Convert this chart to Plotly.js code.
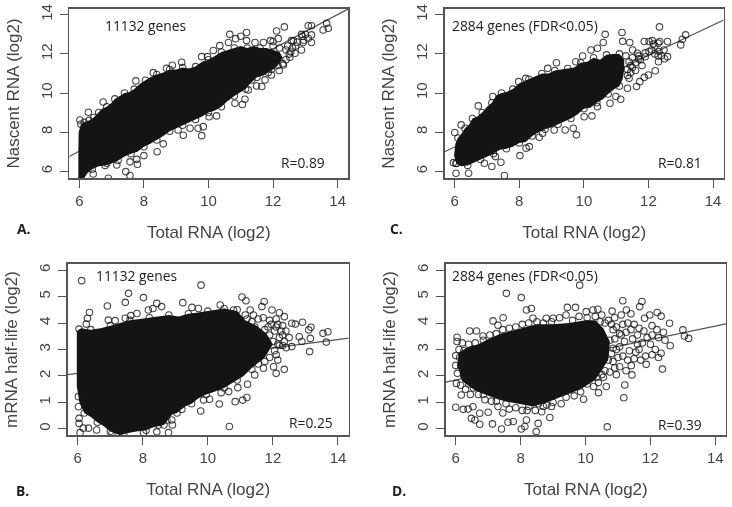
<!DOCTYPE html>
<html><head><meta charset="utf-8">
<script src="https://cdn.plot.ly/plotly-3.0.1.min.js"></script>
<style>html,body{margin:0;padding:0;background:#fff}#c{width:732px;height:507px;filter:blur(0.45px)}</style>
</head><body><div id="c"></div>
<script>
const xTicks=[6,8,10,12,14];
const nascentTicks=[6,8,10,12,14];
const halfLifeTicks=[0,1,2,3,4,5,6];

const fitA=[[5.69,6.75],[14.33,14.3]];
const fitC=[[5.69,7.0],[14.33,13.73]];
const fitB=[[5.69,2.05],[14.33,3.43]];
const fitD=[[5.69,1.77],[14.33,3.97]];

const coreA=[[5.98,8.0],[6.05,8.4],[6.15,8.5],[6.3,8.6],[6.45,8.75],[6.6,9.0],[6.7,9.2],[6.85,9.3],[7.0,9.5],[7.1,9.7],[7.25,9.85],[7.4,10.0],[7.55,10.05],[7.7,10.2],[7.9,10.5],[8.05,10.65],[8.2,10.8],[8.4,10.95],[8.6,11.05],[8.8,11.2],[9.0,11.2],[9.2,11.3],[9.4,11.25],[9.6,11.35],[9.8,11.6],[10.0,11.7],[10.2,11.9],[10.4,12.1],[10.6,12.2],[10.8,12.3],[11.0,12.4],[11.2,12.3],[11.4,12.4],[11.6,12.3],[11.8,12.3],[12.0,12.2],[12.2,12.1],[12.3,11.8],[12.15,11.4],[12.0,11.2],[11.85,11.05],[11.7,10.9],[11.5,10.8],[11.3,10.5],[11.15,10.2],[11.0,10.05],[10.8,9.85],[10.6,9.6],[10.4,9.3],[10.2,9.1],[10.0,9.0],[9.8,8.8],[9.6,8.65],[9.4,8.5],[9.2,8.35],[9.0,8.2],[8.8,8.05],[8.6,7.8],[8.4,7.6],[8.2,7.4],[8.0,7.25],[7.8,7.0],[7.6,6.9],[7.4,6.75],[7.2,6.55],[7.0,6.4],[6.8,6.3],[6.6,6.25],[6.4,6.1],[6.25,5.9],[6.15,5.64],[5.97,5.64],[5.97,7.0]];
const coreC=[[6.02,7.4],[6.1,7.7],[6.2,7.9],[6.32,8.2],[6.45,8.4],[6.55,8.7],[6.7,8.8],[6.85,9.0],[7.0,9.3],[7.15,9.5],[7.3,9.9],[7.45,10.0],[7.6,10.05],[7.8,10.2],[8.0,10.5],[8.3,10.7],[8.5,10.85],[8.7,11.0],[8.9,11.0],[9.1,11.15],[9.3,11.2],[9.5,11.25],[9.7,11.3],[9.9,11.55],[10.1,11.6],[10.3,11.8],[10.5,11.7],[10.7,11.95],[10.9,12.0],[11.1,12.0],[11.25,11.7],[11.25,11.2],[11.2,10.7],[11.1,10.35],[10.95,10.2],[10.75,9.95],[10.6,9.7],[10.4,9.5],[10.2,9.25],[10.0,9.2],[9.8,8.9],[9.6,8.7],[9.4,8.55],[9.2,8.4],[9.0,8.25],[8.8,8.15],[8.6,8.0],[8.4,7.8],[8.2,7.5],[8.0,7.45],[7.8,7.25],[7.6,7.15],[7.4,7.1],[7.2,6.9],[7.0,6.75],[6.8,6.6],[6.6,6.45],[6.4,6.3],[6.2,6.25],[6.05,6.4],[5.98,6.8],[6.0,7.1]];
const coreB=[[5.97,3.7],[6.1,3.8],[6.4,3.75],[6.7,3.8],[7.0,3.9],[7.3,4.0],[7.6,4.1],[7.9,4.15],[8.2,4.2],[8.5,4.25],[8.8,4.3],[9.1,4.25],[9.4,4.35],[9.7,4.4],[10.0,4.45],[10.3,4.5],[10.5,4.55],[10.9,4.45],[11.15,4.1],[11.5,3.9],[11.8,3.6],[12.0,3.2],[11.75,2.7],[11.35,2.3],[11.1,2.0],[10.9,1.85],[10.7,1.7],[10.5,1.55],[10.2,1.4],[9.95,1.3],[9.7,1.15],[9.5,0.95],[9.3,0.85],[9.05,0.6],[8.9,0.55],[8.65,0.15],[8.3,0.05],[8.1,-0.05],[7.8,-0.1],[7.55,-0.15],[7.3,-0.24],[7.0,-0.1],[6.8,0.1],[6.6,0.25],[6.4,0.45],[6.2,0.6],[6.05,1.0],[5.97,1.6],[5.97,2.2],[5.97,2.8],[5.97,3.3]];
const coreD=[[6.1,2.9],[6.4,3.1],[6.7,3.2],[7,3.4],[7.4,3.6],[8,3.8],[8.5,3.95],[9,3.95],[9.5,4.0],[10,4.1],[10.3,4.1],[10.55,3.8],[10.75,3.3],[10.7,2.6],[10.3,1.85],[9.85,1.5],[9.3,1.25],[8.8,1.0],[8.4,0.85],[8,0.95],[7.5,1.05],[7,1.25],[6.6,1.45],[6.2,1.8],[6.05,2.4]];

const pointsA=[[12.35,13.38],[12.11,13.17],[11.18,13.09],[10.66,13.0],[11.0,12.9],[10.84,12.78],[11.18,12.68],[10.62,12.58],[11.44,12.58],[11.7,12.58],[11.92,12.68],[12.16,12.78],[10.35,12.42],[10.15,12.17],[9.79,11.86],[9.97,11.86],[9.17,11.57],[8.88,11.42],[8.7,11.26],[8.29,11.04],[7.75,10.62],[6.74,9.54],[6.28,9.02],[6.02,8.62],[13.09,13.44],[13.19,13.44],[12.88,13.0],[13.66,13.56],[13.55,13.22],[13.71,13.31],[13.19,12.97],[13.09,12.8],[13.19,12.58],[12.93,12.58],[12.88,12.2],[12.63,12.68],[12.57,12.68],[12.0,12.63],[12.68,12.03],[12.52,11.83],[12.32,11.43],[12.19,11.15],[11.95,11.21],[11.95,10.92],[11.75,10.67],[11.65,10.33],[11.49,10.36],[11.34,10.67],[11.23,10.16],[11.13,9.68],[11.05,9.41],[10.82,9.48],[10.56,9.78],[10.25,8.83],[10.02,8.79],[9.84,8.28],[9.79,7.82],[9.68,8.2],[9.43,8.2],[9.22,7.84],[9.06,8.11],[8.6,7.4],[8.41,7.0],[8.0,6.8],[7.78,6.61],[7.8,6.36],[7.57,6.48],[7.44,5.98],[7.57,5.78],[7.16,6.32],[6.85,6.41],[6.43,5.86],[6.9,5.64],
[6.05,8.4],[6.15,8.5],[6.3,8.6],[6.45,8.75],[6.6,9.0],[6.85,9.3],[7.1,9.7],[7.4,10.0],[7.7,10.2],[8.05,10.65],[8.4,10.95],[8.8,11.2],[9.2,11.3],[9.6,11.35],[10.0,11.7],[10.4,12.1],[10.8,12.3],[11.2,12.3],[11.6,12.3],[12.0,12.4],[12.2,12.3],[12.4,12.2],[12.5,12.0],
[12.4,11.7],[12.3,11.5],[12.15,11.4],[11.85,11.05],[11.5,10.8],[11.15,10.2],[10.8,9.85],[10.4,9.3],[10.0,9.0],[9.6,8.65],[9.2,8.35],[8.8,8.05],[8.4,7.6],[8.0,7.25],[7.6,6.9],[7.2,6.55],[6.8,6.3],[6.4,6.1],
[12.45,12.4],[12.6,12.3],[12.75,12.6],[12.9,12.9],[13.0,13.0],[12.95,12.7],[12.7,12.4],[12.55,12.1]];

const pointsC=[[12.34,13.38],[11.18,13.09],[10.66,13.0],[11.2,12.64],[11.42,12.58],[10.6,12.58],[10.42,12.29],[10.22,12.2],[9.96,11.89],[9.75,11.6],[9.15,11.55],[8.88,11.26],[8.2,10.75],[7.98,10.58],[7.18,9.82],[6.73,9.34],[6.2,8.37],[6.0,7.98],[13.15,12.97],[13.05,12.75],[13.0,12.46],[12.59,12.63],[12.59,11.86],[12.35,12.63],[12.12,12.68],[12.02,12.63],[11.87,12.63],[11.51,12.2],[11.66,12.03],[12.33,12.12],[12.02,12.12],[12.48,12.2],[12.31,11.6],[12.21,11.14],[12.0,10.92],[11.87,10.8],[11.73,10.58],[11.63,10.33],[11.4,10.75],[11.35,10.24],[11.14,9.68],[10.99,9.82],[10.81,9.48],[10.42,9.3],[10.25,8.83],[10.01,8.79],[9.77,7.86],[9.67,8.2],[9.42,8.11],[9.08,8.11],[8.72,7.94],[8.62,7.74],[8.31,7.26],[8.21,7.18],[8.02,6.8],[7.26,6.75],[7.43,6.46],[7.15,6.24],[6.92,6.41],[7.54,5.78],[6.43,5.9],[6.04,5.9],[6.04,6.41],[5.96,6.44],
[6.1,7.7],[6.32,8.2],[6.55,8.7],[6.85,9.0],[7.15,9.5],[7.45,10.0],[7.8,10.2],[8.3,10.7],[8.7,11.0],[9.1,11.15],[9.5,11.25],[9.9,11.55],[10.3,11.8],[10.7,11.95],[11.1,12.0],[11.3,11.9],[11.5,11.8],[11.7,11.9],[11.9,12.05],[12.1,12.2],[12.2,12.0],[12.4,11.9],[12.5,11.75],[12.3,11.9],[12.2,12.4],[12.3,12.55],[12.15,12.5],
[11.45,11.4],[11.6,11.55],[11.75,11.7],[11.9,11.85],[11.8,11.4],[11.6,11.15],[11.45,11.05],[11.35,10.9],[11.4,11.6],[11.35,11.2],[11.5,11.3],[11.7,11.75],[11.1,10.35],[10.75,9.95],[10.4,9.5],[10.0,9.2],[9.6,8.7],[9.2,8.4],[8.8,8.15],[8.4,7.8],[8.0,7.45],[7.6,7.15],[7.2,6.9],[6.8,6.6],[6.4,6.3],[6.05,6.4]];

const pointsB=[[6.12,5.6],[9.79,5.43],[7.56,5.12],[7.46,4.78],[6.91,4.64],[8.02,4.96],[9.23,4.77],[8.43,4.74],[11.05,4.98],[11.17,4.84],[11.73,4.81],[11.66,4.62],[6.36,4.4],[6.3,4.18],[6.26,3.96],[6.04,3.77],[6.94,4.11],[7.15,4.09],[7.46,4.18],[7.63,4.28],[7.82,4.36],[8.17,4.49],[8.31,4.55],[8.58,4.62],[9.51,4.59],[9.71,4.55],[10.38,4.68],[10.79,4.49],[11.3,4.49],[11.97,4.49],[12.2,4.39],[12.35,4.24],[12.58,3.99],[12.69,3.96],[12.91,4.03],[13.1,3.74],[13.17,3.84],[13.54,3.61],[13.69,3.67],[13.64,3.28],[13.15,3.42],[12.81,3.48],[12.89,3.3],[13.13,2.92],[12.58,3.11],[12.41,3.07],[12.35,2.25],[12.1,2.1],[12.02,2.35],[11.71,2.29],[11.44,2.04],[11.22,1.69],[11.2,1.19],[11.07,1.09],[10.84,1.03],[10.92,1.56],[10.64,1.41],[10.41,1.37],[10.35,0.94],[10.66,0.09],[9.78,0.68],[10.05,1.12],[9.87,1.09],[9.2,0.74],[8.89,0.34],[8.79,-0.14],[8.43,-0.11],[8.02,-0.14],[6.07,-0.14],[6.04,0.21],[6.04,0.4],[6.02,0.84],[6.02,1.22],[6.17,0.03],[6.33,0.03],[6.58,-0.04],[7.05,-0.16],[7.41,-0.19],[8.48,0.15],[8.91,0.15],[8.74,0.34],
[6.4,3.75],[7.0,3.9],[7.6,4.1],[8.2,4.2],[8.8,4.3],[9.4,4.35],[10.0,4.45],[10.5,4.55],[10.9,4.5],[11.15,4.3],[11.4,4.3],[11.55,4.15],[11.7,4.2],[11.9,4.1],[12.1,4.15],[12.3,3.9],[12.4,3.7],[12.5,3.45],[12.35,3.3],[12.2,3.15],[12.1,2.8],[12.15,2.6],[11.9,2.7],[11.75,2.55],[11.55,2.45],[11.35,2.25],[10.9,1.85],[10.5,1.55],[9.95,1.3],[9.5,0.95],[9.05,0.6],[8.65,0.15],[8.1,-0.05],[7.0,-0.1],[6.6,0.25],[6.2,0.6],
[11.45,3.85],[11.6,3.6],[11.75,3.75],[11.9,3.55],[12.05,3.7],[12.2,3.45],[12.3,3.55],[12.0,3.3],[12.15,3.2],[12.3,3.15],[12.05,2.95],[11.85,3.85],[12.1,3.85],[11.35,4.05],[11.2,4.15],[12.15,3.95],[11.95,3.95],[12.25,3.7]];

const pointsD=[[9.82,5.43],[7.56,5.12],[8.02,4.96],[11.15,4.84],[11.74,4.81],[11.67,4.62],[8.18,4.49],[8.33,4.55],[9.44,4.59],[9.69,4.59],[10.02,4.43],[10.23,4.49],[10.38,4.52],[10.82,4.45],[11.26,4.49],[12.21,4.4],[12.33,4.26],[12.59,3.99],[11.82,4.18],[11.98,4.3],[13.0,3.74],[13.05,3.51],[13.18,3.42],[12.61,3.14],[12.33,2.86],[12.37,2.26],[11.87,2.44],[11.41,2.39],[11.43,2.04],[11.21,1.66],[11.18,1.18],[10.64,1.6],[10.4,1.37],[9.94,1.12],[10.67,0.08],[8.9,0.43],[8.48,-0.1],[8.54,0.21],[8.18,0.34],[8.13,0.09],[8.02,0],[7.77,0.28],[7.41,0],[7.61,0.25],[7.13,0.19],[6.74,0.18],[6.59,0.34],[6.48,0.4],[6.0,0.82],[6.23,0.74],[6.38,0.75],[6.53,0.84],[6.74,0.59],[7.0,0.63],[6.17,1.28],[6.02,1.72],[6.0,2.77],[6.04,3.3],[6.04,3.46],[6.43,3.7],[6.64,3.7],[6.84,3.51],[7.15,4.08],[7.46,4.2],[7.3,3.92],[8.38,4.18],[8.79,4.18],[9.0,4.18],
[6.1,3.0],[6.2,3.25],[6.4,3.2],[6.6,3.25],[6.85,3.35],[7.05,3.55],[7.25,3.6],[7.45,3.75],[7.65,3.8],[7.85,3.85],[8.05,3.95],[8.25,4.0],[8.5,4.05],[8.7,4.0],[8.95,4.05],[9.2,4.2],[9.4,4.3],[9.6,4.1],[9.8,4.25],[10.05,4.2],[10.3,4.25],[10.5,4.3],[10.7,4.1],[10.9,4.2],[11.1,4.3],[11.4,4.35],[11.3,4.0],[11.5,3.95],[11.65,3.8],[11.8,3.7],[12.05,3.9],[12.2,3.75],[12.4,3.65],[12.45,3.35],[12.25,3.45],[12.05,3.55],[12.0,3.2],[12.15,3.0],[12.25,2.7],[12.05,2.8],[11.85,2.75],[11.7,2.6],[11.55,2.9],[11.35,2.95],[11.45,3.4],[11.2,3.3],[11.05,3.6],[10.85,3.75],[10.75,3.35],[10.95,3.0],[11.15,2.75],[11.3,2.6],[11.05,2.35],[10.85,2.55],[10.75,2.15],[10.95,2.05],[10.55,1.95],[10.7,2.6],[10.4,1.75],[10.25,1.6],[10.05,1.7],[9.85,1.4],[9.65,1.25],[9.4,1.2],[9.25,0.95],[9.0,1.0],[8.8,0.9],[8.65,0.65],[8.45,0.7],[8.55,0.95],[8.25,0.85],[8.05,0.7],[7.85,0.8],[7.65,0.75],[7.45,0.6],[7.3,0.85],[7.1,1.05],[6.9,1.1],[6.7,1.3],[6.45,1.3],[6.3,1.5],[6.15,1.65],[6.05,2.1],[6.0,2.4],[6.12,2.7],
[10.95,3.85],[11.1,3.55],[10.9,3.4],[11.05,3.1],[11.25,3.65],[11.4,3.75],[11.6,3.55],[11.75,3.25],[11.9,3.45],[11.6,3.2],[11.25,2.2],[11.0,2.7],[10.9,2.3],[11.5,2.65],[11.65,3.0],[10.85,3.05],[10.8,2.85],[10.6,2.2],[10.5,2.05],[10.35,1.95],[11.15,3.95],[10.8,3.95],[10.6,4.0],[10.45,4.05],[6.25,2.95],[6.15,2.4],[6.25,2.0],[6.4,1.7],[6.55,1.55],[6.85,1.3],[7.25,1.05],[7.55,0.95],[8.2,0.7],[8.7,0.85],[8.95,0.85]];

const traces=[];
function add(core,pts,fit,n){
  const s=n===1?'':String(n);
  traces.push({type:'scatter',mode:'lines',x:fit.map(p=>p[0]),y:fit.map(p=>p[1]),line:{width:1.2,color:'#555'},xaxis:'x'+s,yaxis:'y'+s,showlegend:false});
  traces.push({type:'scatter',mode:'lines',x:core.map(p=>p[0]),y:core.map(p=>p[1]),fill:'toself',fillcolor:'#141414',line:{width:0,color:'#141414'},xaxis:'x'+s,yaxis:'y'+s,hoverinfo:'skip',showlegend:false});
  traces.push({type:'scatter',mode:'markers',x:pts.map(p=>p[0]),y:pts.map(p=>p[1]),marker:{symbol:'circle-open',size:6.5,color:'rgba(25,25,25,0.8)',line:{width:1.1,color:'rgba(25,25,25,0.8)'}},xaxis:'x'+s,yaxis:'y'+s,showlegend:false});
}
add(coreA,pointsA,fitA,1);
add(coreC,pointsC,fitC,2);
add(coreB,pointsB,fitB,3);
add(coreD,pointsD,fitD,4);

const W=732,H=507,gray='#555';
function xa(px0,px1,rng,anchor){return {domain:[px0/W,px1/W],range:rng,anchor:anchor,tickvals:xTicks,ticks:'outside',ticklen:8,tickwidth:1,tickcolor:gray,linecolor:gray,linewidth:1.4,mirror:true,showgrid:false,zeroline:false,tickfont:{family:'Liberation Sans',size:15,color:'#444'},title:{text:'Total RNA (log2)',standoff:18,font:{family:'Liberation Sans',size:17,color:'#444'}}};}
function ya(py0,py1,rng,anchor,ticks,title,st){return {domain:[1-py1/H,1-py0/H],range:rng,anchor:anchor,tickvals:ticks,tickangle:-90,ticks:'outside',ticklen:8,ticklabelstandoff:2,tickwidth:1,tickcolor:gray,linecolor:gray,linewidth:1.4,mirror:true,showgrid:false,zeroline:false,tickfont:{family:'Liberation Sans',size:15,color:'#444'},title:{text:title,standoff:st,font:{family:'Liberation Sans',size:17,color:'#444'}}};}
function note(px,py,t,size,bold){return {xref:'paper',yref:'paper',x:px/W,y:1-py/H,xanchor:'left',yanchor:'middle',showarrow:false,xshift:-1,text:bold?'<b>'+t+'</b>':t,font:{family:'Open Sans',size:size,color:'#222'}};}
const layout={width:W,height:H,margin:{l:0,r:0,t:0,b:0},paper_bgcolor:'#fff',plot_bgcolor:'#fff',showlegend:false,
 xaxis:xa(69.3,348.3,[5.69,14.33],'y'),yaxis:ya(8.7,178.3,[5.64,14.31],'x',nascentTicks,'Nascent RNA (log2)',14),
 xaxis2:xa(444.7,723.7,[5.69,14.33],'y2'),yaxis2:ya(8.7,178.3,[5.64,14.31],'x2',nascentTicks,'Nascent RNA (log2)',14),
 xaxis3:xa(67.7,348.7,[5.69,14.33],'y3'),yaxis3:ya(263.7,435.3,[-0.24,6.24],'x3',halfLifeTicks,'mRNA half-life (log2)',14),
 xaxis4:xa(445.7,726,[5.69,14.33],'y4'),yaxis4:ya(263.7,435.3,[-0.24,6.24],'x4',halfLifeTicks,'mRNA half-life (log2)',14),
 annotations:[
  note(104,25,'11132 genes',13.8),note(280,162,'R=0.89',13.8),note(16,228,'A.',13.8,true),
  note(451,25,'2884 genes (FDR&lt;0.05)',13.8),note(657,162,'R=0.81',13.8),note(389,228,'C.',13.8,true),
  note(95,275,'11132 genes',13.8),note(288,422,'R=0.25',13.8),note(15,490,'B.',13.8,true),
  note(451,275,'2884 genes (FDR&lt;0.05)',13.8),note(657,424,'R=0.39',13.8),note(391,490,'D.',13.8,true)
 ]};
Plotly.newPlot('c',traces,layout,{displayModeBar:false,staticPlot:true});
</script></body></html>
